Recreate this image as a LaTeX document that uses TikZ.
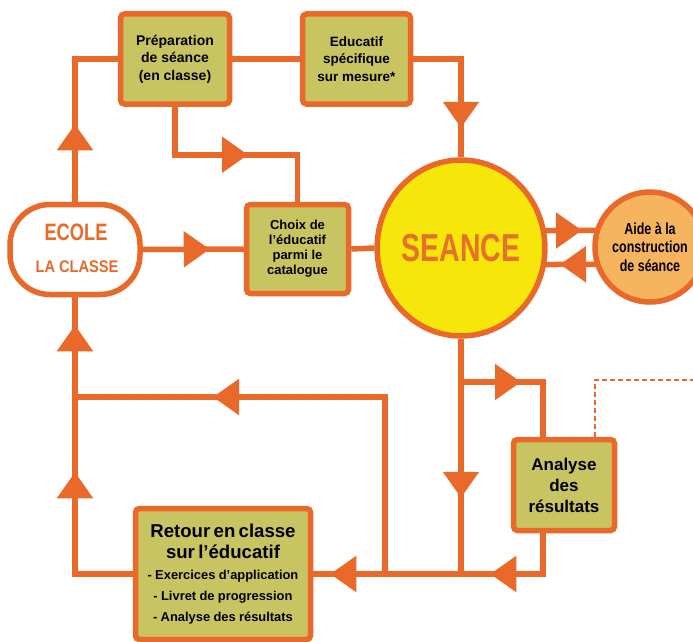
\documentclass[tikz,border=0pt]{standalone}
\usepackage{fontspec}
\usepackage{graphicx}
\setmainfont{Liberation Sans}
\usetikzlibrary{arrows.meta,decorations.markings,shapes.geometric,calc}
\definecolor{org}{RGB}{232,105,42}
\definecolor{olive}{RGB}{201,196,98}
\definecolor{yel}{RGB}{246,230,10}
\definecolor{aidefill}{RGB}{247,180,95}
\definecolor{seancetxt}{RGB}{232,112,45}
\pgfdeclarelayer{back}
\pgfdeclarelayer{bg}
\pgfsetlayers{back,bg,main}
\tikzset{
  >={Triangle[length=26pt,width=35pt]},
  conn/.style={draw=org, line width=5.5pt},
  amark/.style={postaction={decorate,decoration={markings,mark=at position #1 with {\arrow[org]{>}}}}},
  box/.style={draw=org, line width=5.5pt, fill=olive, rounded corners=4pt, inner sep=0pt, align=center, text=black},
  dashline/.style={draw=org, line width=1.6pt, dash pattern=on 5pt off 3pt},
}
\begin{document}
\begin{tikzpicture}[x=1pt,y=-1pt]
\begin{pgfonlayer}{back}
\fill[white] (0,0) rectangle (693,642);
\end{pgfonlayer}
\useasboundingbox (0,0) rectangle (693,642);
% nodes
\node[draw=org, line width=5.5pt, fill=white, rounded corners=40pt, minimum width=130pt, minimum height=90pt] (ecole) at (75,249.5) {};
\node[text=org, font=\bfseries\fontsize{23.7}{24}\selectfont, inner sep=0pt] (ecolet1) at (76,232) {\scalebox{0.77}[1]{ECOLE}};
\node[text=org, font=\bfseries\fontsize{16.8}{17}\selectfont, inner sep=0pt] (ecolet2) at (77,267) {\scalebox{0.87}[1]{LA CLASSE}};
\node[box, minimum width=109pt, minimum height=90pt, font=\bfseries\fontsize{14}{17.5}\selectfont] (prep) at (175,59) {Préparation\\de séance\\(en classe)};
\node[box, minimum width=108pt, minimum height=90pt, font=\bfseries\fontsize{13.5}{17.5}\selectfont] (edu) at (356.5,59) {Educatif\\spécifique\\sur mesure*};
\node[box, minimum width=102pt, minimum height=89pt, font=\bfseries\fontsize{13}{15}\selectfont] (choix) at (297.5,249) {Choix de\\l’éducatif\\parmi le\\catalogue};
\node[ellipse, draw=org, line width=5.5pt, fill=yel, minimum width=164pt, minimum height=176pt, inner sep=0pt, text=seancetxt, font=\bfseries\fontsize{39}{40}\selectfont] (seance) at (461,248) {\scalebox{0.73}[1]{SEANCE}};
\node[circle, draw=org, line width=5.5pt, fill=aidefill, minimum size=110pt, inner sep=0pt, align=center, font=\bfseries\fontsize{16}{18.5}\selectfont] (aide) at (650,247) {\scalebox{0.78}[1]{Aide à la}\\\scalebox{0.78}[1]{construction}\\\scalebox{0.78}[1]{de séance}};
\node[box, minimum width=101pt, minimum height=91pt, font=\bfseries\fontsize{17}{21}\selectfont] (analyse) at (564,485) {Analyse\\des\\résultats};
\node[box, minimum width=175pt, minimum height=131pt, text width=170pt, font=\bfseries] (retour) at (223,574) {\centering\fontsize{18.6}{21}\selectfont Retour en classe\\sur l’éducatif\\\fontsize{12.9}{21}\selectfont - Exercices d’application\\- Livret de progression\\- Analyse des résultats\par};
\coordinate (b1) at (461,382);
\coordinate (j2) at (385,574);
\coordinate (j3) at (75,397);
\coordinate (dashend) at (700,380);
% connectors
\begin{pgfonlayer}{bg}
\draw[conn, amark=77.5pt] (ecole.north) |- (prep.west);
\draw[conn] (prep.east) -- (edu.west);
\draw[conn, amark=116.5pt] (edu.east) -| (seance.north);
\draw[conn, amark=121pt] (prep.south) -- ++(0,48) -| (choix.north);
\draw[conn, amark=67pt] (ecole.east) -- (choix.west);
\draw[conn] (choix.east) -- (seance.west);
\draw[conn, amark=121pt] ([yshift=17pt]seance.center) -- ([yshift=17pt]aide.center);
\draw[conn, amark=90pt] ([yshift=-17pt]aide.center) -- ([yshift=-17pt]seance.center);
\draw[conn, amark=159pt] (seance.south) -- (seance.south |- retour.east);
\draw[conn, amark=60pt] (b1) -| ([xshift=-21pt]analyse.north);
\draw[conn, amark=93.5pt, amark=253.5pt] ([xshift=-21pt]analyse.south) |- (retour.east);
\draw[conn, amark=349pt] (j2) |- (j3);
\draw[conn, amark=159.5pt, amark=306.5pt] (retour.west) -| (ecole.south);
\draw[dashline] ([xshift=31pt]analyse.north) |- (dashend);
\end{pgfonlayer}
\end{tikzpicture}
\end{document}
